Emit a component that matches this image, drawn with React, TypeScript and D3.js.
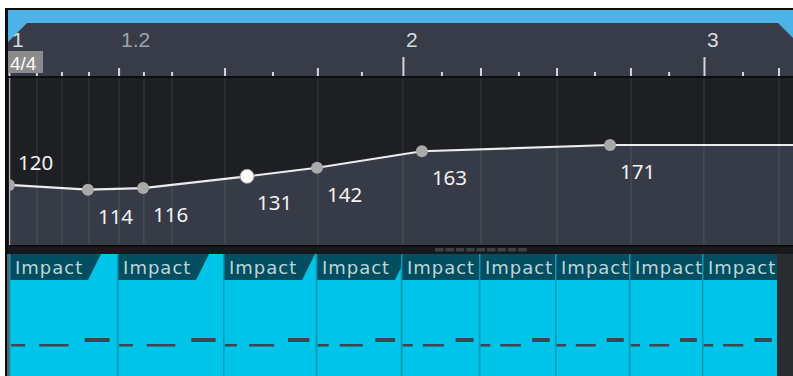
import React from 'react';
import * as d3 from 'd3';

const W = 793;
const H = 376;

// Tempo points (time in seconds, tempo in BPM)
const tempoTimes = [0, 0.362, 0.615, 1.092, 1.413, 1.894, 2.757];
const tempoValues = [120, 114, 116, 131, 142, 163, 171];
const selectedPoint = 3;

// Ruler
const barTimes = [0, 1.807, 3.188];
const barLabels = ['1', '2', '3'];
const beatTimes = [0.505, 0.991, 1.417, 2.165, 2.514, 2.853, 3.532];
const beatLabelTimes = [0.505];
const beatLabels = ['1.2'];
const subTimes = [0.128, 0.243, 0.367, 0.619, 0.748, 1.211, 1.619, 1.986, 2.339, 2.688, 3.028, 3.367];
const gridSubTimes = [0.128, 0.243, 0.367, 0.619, 0.748];
const timeSignature = '4/4';

// Clips (one per beat)
const clipStarts = [0, 0.505, 0.991, 1.417, 1.807, 2.165, 2.514, 2.853, 3.188];
const clipEnd = 3.532;
const clipName = 'Impact';
const noteStartFrac = [0.02, 0.28, 0.7];
const noteEndFrac = [0.15, 0.55, 0.93];
const noteAccent = [false, false, true];

const FONT = '"Noto Sans", "Open Sans", sans-serif';
const RULER_FONT = '"Liberation Sans", Arial, sans-serif';

export default function App() {
  const x = d3.scaleLinear().domain([0, 3.6]).range([9, 793.8]);
  const y = d3.scaleLinear().domain([40, 260]).range([247.7, 75.2]);

  const TEMPO_TOP = 78;
  const TEMPO_BOT = 245;
  const TRACK_TOP = 254;
  const HEADER_BOT = 280;

  const pts: [number, number][] = tempoTimes.map((t, i) => [t, tempoValues[i]]);
  const linePts: [number, number][] = [...pts, [3.6, tempoValues[tempoValues.length - 1]]];
  const line = d3.line<[number, number]>().x(d => x(d[0])).y(d => y(d[1]));
  const area = d3
    .area<[number, number]>()
    .x(d => x(d[0]))
    .y0(TEMPO_BOT)
    .y1(d => y(d[1]));

  const clipRight = x(clipEnd) - 2;
  const clips = clipStarts.map((t, i) => {
    const x0 = Math.max(9, x(t) - 2);
    const x1 = i < clipStarts.length - 1 ? x(clipStarts[i + 1]) - 2 : clipRight;
    return { x0, x1, i };
  });

  const grip = d3.range(9);

  return (
    <svg
      width={W}
      height={H}
      style={{ position: 'absolute', left: 0, top: 0, background: '#ffffff' }}
    >
      <defs>
        <clipPath id="tempoClip">
          <rect x={9} y={TEMPO_TOP} width={W - 9} height={TEMPO_BOT - TEMPO_TOP} />
        </clipPath>
        {clips.map(c => (
          <clipPath id={`clip${c.i}`} key={c.i}>
            <rect x={c.x0} y={TRACK_TOP} width={c.x1 - c.x0} height={H - TRACK_TOP} />
          </clipPath>
        ))}
      </defs>

      {/* outer frame */}
      <rect x={5} y={8} width={W - 5} height={H - 8} fill="#0d0d0f" />

      {/* ruler */}
      <rect x={8} y={10} width={W - 8} height={66} fill="#373c48" />
      <rect x={8} y={10} width={W - 8} height={13} fill="#4db3e6" />
      <path d="M8,23 L27,23 L8,42 Z" fill="#4db3e6" />
      <path d={`M778,23 L${W},23 L${W},38 Z`} fill="#4db3e6" />

      {barTimes.map((t, i) => (
        <g key={`bar${i}`}>
          <rect x={x(t) - 0.5} y={57} width={2} height={19} fill="#d4d7dc" />
          <text x={x(t) + 3} y={47} fontFamily={RULER_FONT} fontSize={21} fill="#d8dbe0">
            {barLabels[i]}
          </text>
        </g>
      ))}
      {beatTimes.map((t, i) => (
        <rect key={`beat${i}`} x={x(t) - 1} y={68} width={2} height={8} fill="#d4d7dc" />
      ))}
      {beatLabelTimes.map((t, i) => (
        <text key={`bl${i}`} x={x(t) + 2} y={47} fontFamily={RULER_FONT} fontSize={21} fill="#9ea3ad">
          {beatLabels[i]}
        </text>
      ))}
      {subTimes.map((t, i) => (
        <rect key={`sub${i}`} x={x(t) - 1} y={72} width={2} height={4} fill="#d4d7dc" />
      ))}
      <rect x={8} y={51} width={35} height={22} fill="#8b8b8b" />
      <text x={10} y={70} fontFamily={RULER_FONT} fontSize={19} fill="#ffffff">
        {timeSignature}
      </text>

      {/* tempo lane */}
      <rect x={8} y={TEMPO_TOP} width={W - 8} height={TEMPO_BOT - TEMPO_TOP} fill="#1e1f23" />
      <g clipPath="url(#tempoClip)">
        <path d={area(linePts) || ''} fill="#373b47" />
        {[...beatTimes, ...barTimes.slice(1), ...gridSubTimes].map((t, i) => (
          <line
            key={`g${i}`}
            x1={x(t)}
            x2={x(t)}
            y1={TEMPO_TOP}
            y2={TEMPO_BOT}
            stroke="#ffffff"
            strokeOpacity={0.08}
            strokeWidth={1.5}
          />
        ))}
        <line x1={9.5} x2={9.5} y1={TEMPO_TOP} y2={TEMPO_BOT} stroke="#a7abb2" strokeWidth={1.5} />
        <path d={line(linePts) || ''} fill="none" stroke="#ececec" strokeWidth={2.2} />
        {pts.map((p, i) => (
          <circle
            key={`p${i}`}
            cx={x(p[0])}
            cy={y(p[1])}
            r={i === selectedPoint ? 7 : 6}
            fill={i === selectedPoint ? '#ffffff' : '#a9a9a9'}
            stroke={i === selectedPoint ? '#9a9a9a' : 'none'}
            strokeWidth={1}
          />
        ))}
      </g>
      {pts.map((p, i) => (
        <text
          key={`l${i}`}
          x={x(p[0]) + (i === 0 ? 9 : 10)}
          y={y(p[1]) + (i === 0 ? -15 : 34)}
          fontFamily={FONT}
          fontSize={20.5}
          fill="#f2f2f2"
        >
          {p[1]}
        </text>
      ))}

      {/* separator */}
      <rect x={8} y={TEMPO_BOT} width={W - 8} height={TRACK_TOP - TEMPO_BOT} fill="#18191c" />
      <rect x={8} y={TEMPO_BOT} width={W - 8} height={1.5} fill="#050505" />
      {grip.map(i => (
        <rect key={`gr${i}`} x={435 + i * 10.4} y={248} width={8.5} height={3.5} fill="#3b4049" />
      ))}

      {/* instrument track */}
      <rect x={8} y={TRACK_TOP} width={W - 8} height={H - TRACK_TOP} fill="#2a2d30" />
      <rect x={7} y={TRACK_TOP} width={2} height={H - TRACK_TOP} fill="#5a5f66" />
      {clips.map(c => {
        const w = c.x1 - c.x0;
        return (
          <g key={`c${c.i}`} clipPath={`url(#clip${c.i})`}>
            <rect x={c.x0} y={TRACK_TOP} width={w} height={H - TRACK_TOP} fill="#00c4e8" />
            <path
              d={`M${c.x0},${TRACK_TOP} L${c.x0 + 92},${TRACK_TOP} L${c.x0 + 79},${HEADER_BOT} L${c.x0},${HEADER_BOT} Z`}
              fill="#004e60"
            />
            <text
              x={c.x0 + 6}
              y={274}
              fontFamily='"DejaVu Sans", sans-serif'
              fontSize={18}
              letterSpacing={1}
              fill="#bcd5db"
            >
              {clipName}
            </text>
            {noteStartFrac.map((f, k) => {
              const nx0 = c.x0 + f * w;
              const nx1 = c.x0 + noteEndFrac[k] * w;
              return (
                <rect
                  key={`n${k}`}
                  x={nx0}
                  y={noteAccent[k] ? 338 : 344}
                  width={nx1 - nx0}
                  height={noteAccent[k] ? 4 : 2.5}
                  fill="#3a4752"
                />
              );
            })}
            <rect x={c.x0} y={TRACK_TOP} width={1.5} height={H - TRACK_TOP} fill="#0a97b4" />
          </g>
        );
      })}
    </svg>
  );
}
